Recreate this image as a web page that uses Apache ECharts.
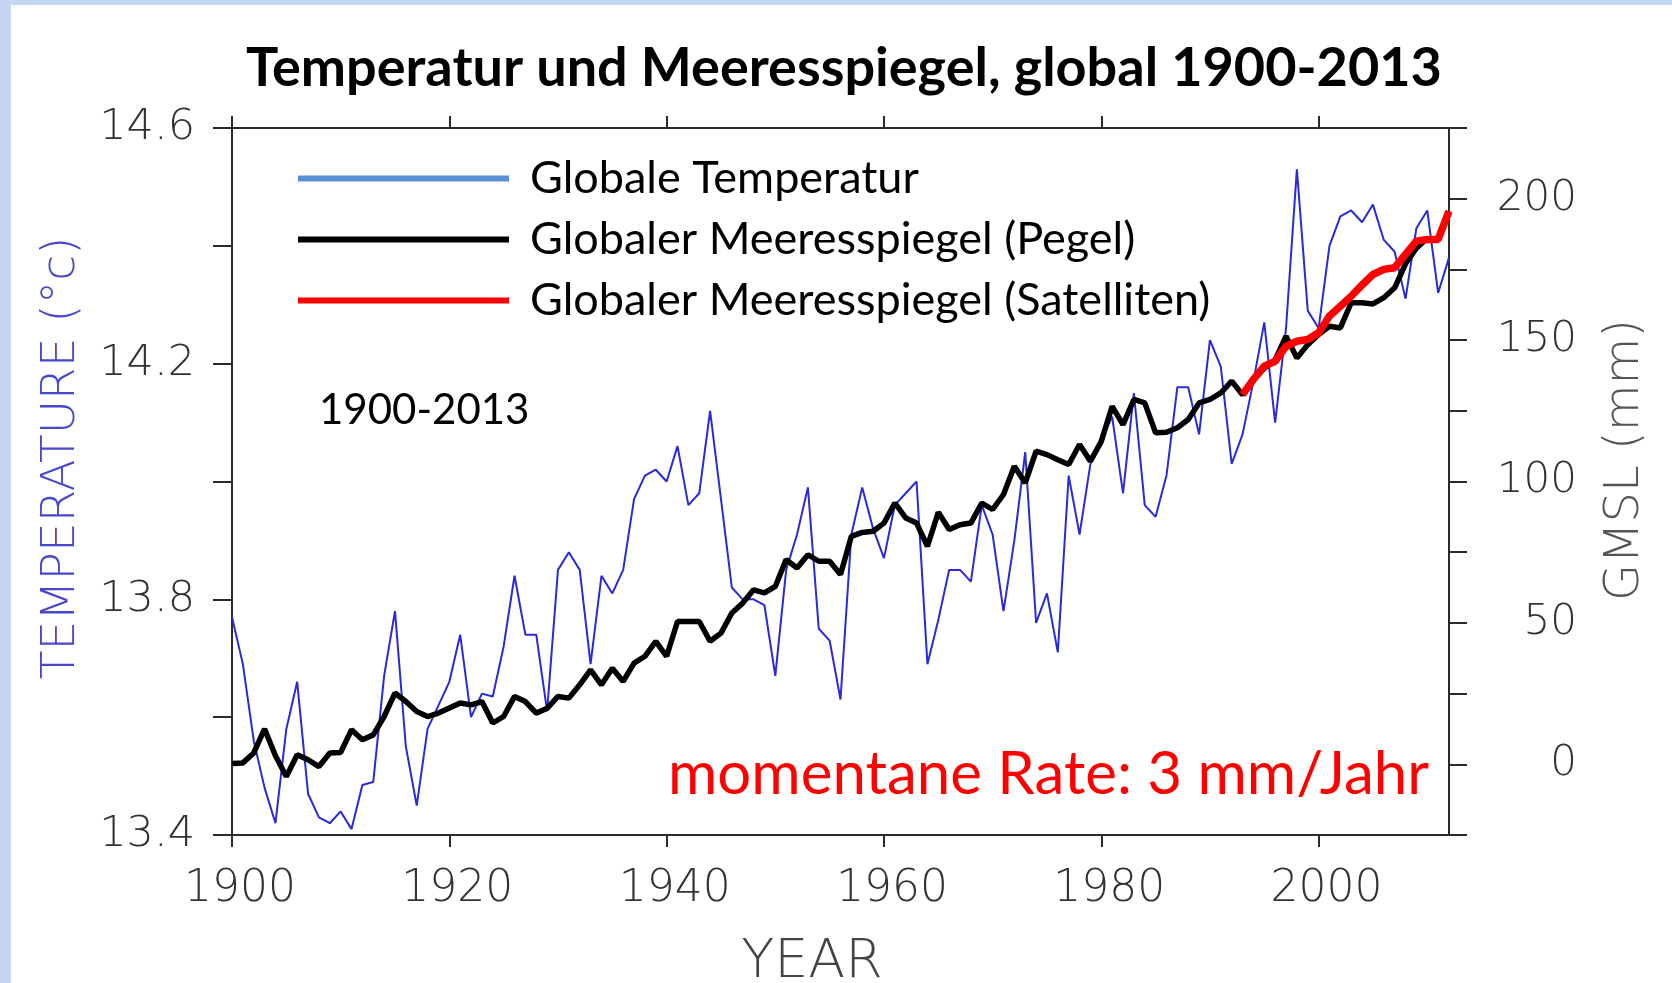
<!DOCTYPE html>
<html>
<head>
<meta charset="utf-8">
<title>Temperatur und Meeresspiegel, global 1900-2013</title>
<script src="https://cdn.jsdelivr.net/npm/echarts@6/dist/echarts.min.js"></script>
<style>
    html, body { margin: 0; padding: 0; background: #fff; }
    #chart { width: 1672px; height: 983px; }
</style>
</head>
<body>
<div id="chart"></div>
<script>
// global mean temperature (degC), one value per year from tempStart
var tempStart = 1900;
var tempValues = [
    13.77, 13.69, 13.56, 13.48, 13.42, 13.58, 13.66, 13.47, 13.43, 13.42,
    13.44, 13.41, 13.485, 13.49, 13.67, 13.78, 13.55, 13.45, 13.58, 13.62,
    13.66, 13.74, 13.60, 13.64, 13.635, 13.72, 13.84, 13.74, 13.74, 13.61,
    13.85, 13.88, 13.85, 13.69, 13.84, 13.81, 13.85, 13.97, 14.01, 14.02,
    14.00, 14.06, 13.96, 13.98, 14.12, 13.97, 13.82, 13.80, 13.80, 13.79,
    13.67, 13.85, 13.91, 13.99, 13.75, 13.73, 13.63, 13.91, 13.99, 13.92,
    13.87, 13.96, 13.98, 14.00, 13.69, 13.765, 13.85, 13.85, 13.83, 13.96,
    13.91, 13.78, 13.90, 14.05, 13.76, 13.81, 13.71, 14.01, 13.91, 14.03,
    14.07, 14.11, 13.98, 14.15, 13.96, 13.94, 14.01, 14.16, 14.16, 14.08,
    14.24, 14.195, 14.03, 14.08, 14.17, 14.27, 14.10, 14.26, 14.53, 14.29,
    14.26, 14.40, 14.45, 14.46, 14.44, 14.47, 14.41, 14.39, 14.31, 14.43,
    14.46, 14.32, 14.38
];

// tide gauge sea level (mm)
var gaugeStart = 1900;
var gaugeValues = [
    0.3, 0.5, 4, 12.5, 3, -4.3, 3.4, 1.6, -0.8, 4,
    4.2, 12.2, 8.7, 10.4, 16.9, 25.2, 22.2, 18.7, 16.9, 18.1,
    19.9, 21.7, 21, 22.2, 14.6, 16.9, 24, 22.2, 18.1, 19.8,
    24, 23.4, 28.1, 33.4, 28.1, 34, 29.3, 35.8, 38.2, 43.5,
    38.2, 50.5, 50.5, 50.5, 43.5, 46.4, 53.5, 57, 61.7, 60.6,
    62.9, 72.4, 69.4, 74.1, 71.8, 71.8, 67.1, 80.6, 82, 82.4,
    85.3, 92.4, 87.1, 85.3, 77.1, 89.1, 83, 84.7, 85.3, 92.4,
    90.1, 95.4, 105.4, 99.5, 110.7, 109.5, 107.7, 106, 113.1, 107.2,
    114.2, 126.6, 120.1, 129, 127.8, 117.2, 117.4, 119, 121.9, 127.8,
    129, 131.3, 135.5, 130.7, 136, 140, 143, 151.4, 143.7, 148.4,
    152, 154.9, 154.3, 163.2, 163.2, 162.8, 165, 168.5, 177, 182.5,
    186
];

// satellite sea level (mm)
var satStart = 1993;
var satValues = [
    130.7, 136.1, 140.8, 142.5, 147.8, 149.6, 150.2, 152.6, 158.5, 162,
    165.5, 169.5, 173.2, 175, 175.6, 180.3, 185, 185.6, 185.6, 195.6
];

var yearLabels = [1900, 1920, 1940, 1960, 1980, 2000];
var tempLabels = ['13.4', '13.8', '14.2', '14.6'];
var gmslLabels = [0, 50, 100, 150, 200];

var seriesNames = [
    'Globale Temperatur',
    'Globaler Meeresspiegel (Pegel)',
    'Globaler Meeresspiegel (Satelliten)'
];

function pairs(start, vals) {
    return vals.map(function (v, i) { return [start + i, v]; });
}

var tickFont = 'DejaVu Sans';
var textFont = 'Lato';
var axisColor = '#2a2a2a';

var chart = echarts.init(document.getElementById('chart'));

var xAxisBase = {
    type: 'value',
    min: 1900,
    max: 2012,
    interval: 20,
    axisLine: {onZero: false, lineStyle: {color: axisColor, width: 2}},
    axisTick: {length: 12, customValues: yearLabels, lineStyle: {color: axisColor, width: 2}},
    splitLine: {show: false}
};

var option = {
    animation: false,
    backgroundColor: '#fff',
    grid: {left: 232, right: 223, top: 128, bottom: 148},
    legend: {
        orient: 'vertical',
        left: 290,
        top: 147,
        itemWidth: 211,
        itemHeight: 6,
        itemGap: 8,
        selectedMode: false,
        textStyle: {fontFamily: textFont, fontSize: 45, color: '#000', lineHeight: 53, padding: [0, 0, 0, 16]},
        data: [
            {name: seriesNames[0], lineStyle: {color: '#5a8fd6', width: 6}, itemStyle: {color: '#5a8fd6'}},
            {name: seriesNames[1], lineStyle: {color: '#000', width: 6}, itemStyle: {color: '#000'}},
            {name: seriesNames[2], lineStyle: {color: '#ff0000', width: 6}, itemStyle: {color: '#ff0000'}}
        ]
    },
    xAxis: [
        Object.assign({}, xAxisBase, {
            position: 'bottom',
            axisLabel: {
                margin: 33, fontSize: 44, fontFamily: tickFont, fontWeight: 200, color: '#333',
                padding: [0, 0, 0, 16],
                formatter: function (v) { return yearLabels.indexOf(v) >= 0 ? String(v) : ''; }
            }
        }),
        Object.assign({}, xAxisBase, {
            position: 'top',
            axisLabel: {show: false}
        })
    ],
    yAxis: [
        {
            type: 'value',
            position: 'left',
            min: 13.4,
            max: 14.6,
            interval: 0.2,
            axisLine: {show: true, onZero: false, lineStyle: {color: axisColor, width: 2}},
            axisTick: {show: true, length: 19, lineStyle: {color: axisColor, width: 2}},
            splitLine: {show: false},
            axisLabel: {
                margin: 37, fontSize: 43, fontFamily: tickFont, fontWeight: 200, color: '#333',
                padding: [6, 0, 0, 0],
                formatter: function (v) {
                    var s = v.toFixed(1);
                    return tempLabels.indexOf(s) >= 0 ? s : '';
                }
            }
        },
        {
            type: 'value',
            position: 'right',
            min: -25,
            max: 225,
            interval: 25,
            axisLine: {show: true, onZero: false, lineStyle: {color: axisColor, width: 2}},
            axisTick: {show: true, length: 18, lineStyle: {color: axisColor, width: 2}},
            splitLine: {show: false},
            axisLabel: {
                margin: 128, align: 'right', fontSize: 42, fontFamily: tickFont, fontWeight: 200, color: '#333',
                padding: [6, 0, 0, 0],
                formatter: function (v) { return gmslLabels.indexOf(v) >= 0 ? String(v) : ''; }
            }
        }
    ],
    series: [
        {
            name: seriesNames[0],
            type: 'line',
            xAxisIndex: 0,
            yAxisIndex: 0,
            symbol: 'none',
            data: pairs(tempStart, tempValues),
            lineStyle: {color: '#2a2ad6', width: 2},
            itemStyle: {color: '#2a2ad6'}
        },
        {
            name: seriesNames[1],
            type: 'line',
            xAxisIndex: 0,
            yAxisIndex: 1,
            symbol: 'none',
            data: pairs(gaugeStart, gaugeValues),
            lineStyle: {color: '#000', width: 5.5},
            itemStyle: {color: '#000'}
        },
        {
            name: seriesNames[2],
            type: 'line',
            xAxisIndex: 0,
            yAxisIndex: 1,
            symbol: 'none',
            data: pairs(satStart, satValues),
            lineStyle: {color: '#ff0000', width: 7.5},
            itemStyle: {color: '#ff0000'}
        }
    ],
    graphic: [
        {type: 'rect', left: 0, top: 0, shape: {width: 11, height: 983}, style: {fill: '#c5d7f0'}, silent: true},
        {type: 'rect', left: 0, top: 0, shape: {width: 1672, height: 5}, style: {fill: '#c5d7f0'}, silent: true},
        {
            type: 'text', x: 844, y: 69,
            style: {text: 'Temperatur und Meeresspiegel, global 1900-2013', fontFamily: textFont, fontWeight: 'bold',
                fontSize: 54, fill: '#000', align: 'center', verticalAlign: 'middle'}
        },
        {
            type: 'text', x: 319, y: 410,
            style: {text: '1900-2013', fontFamily: textFont, fontSize: 42, fill: '#000', align: 'left', verticalAlign: 'middle'}
        },
        {
            type: 'text', x: 668, y: 775,
            style: {text: 'momentane Rate: 3 mm/Jahr', fontFamily: textFont, fontSize: 60, fill: '#ff0000', align: 'left', verticalAlign: 'middle'}
        },
        {
            type: 'text', x: 62, y: 458, rotation: Math.PI / 2,
            style: {text: 'TEMPERATURE (°c)', fontFamily: tickFont, fontWeight: 200, fontSize: 47, fill: '#4848cc', align: 'center', verticalAlign: 'middle'}
        },
        {
            type: 'text', x: 1626, y: 460, rotation: Math.PI / 2,
            style: {text: 'GMSL (mm)', fontFamily: tickFont, fontWeight: 200, fontSize: 48, fill: '#555', align: 'center', verticalAlign: 'middle'}
        },
        {
            type: 'text', x: 812, y: 963,
            style: {text: 'YEAR', fontFamily: tickFont, fontWeight: 200, fontSize: 54, fill: '#444', align: 'center', verticalAlign: 'middle'}
        }
    ]
};

chart.setOption(option);
</script>
</body>
</html>
